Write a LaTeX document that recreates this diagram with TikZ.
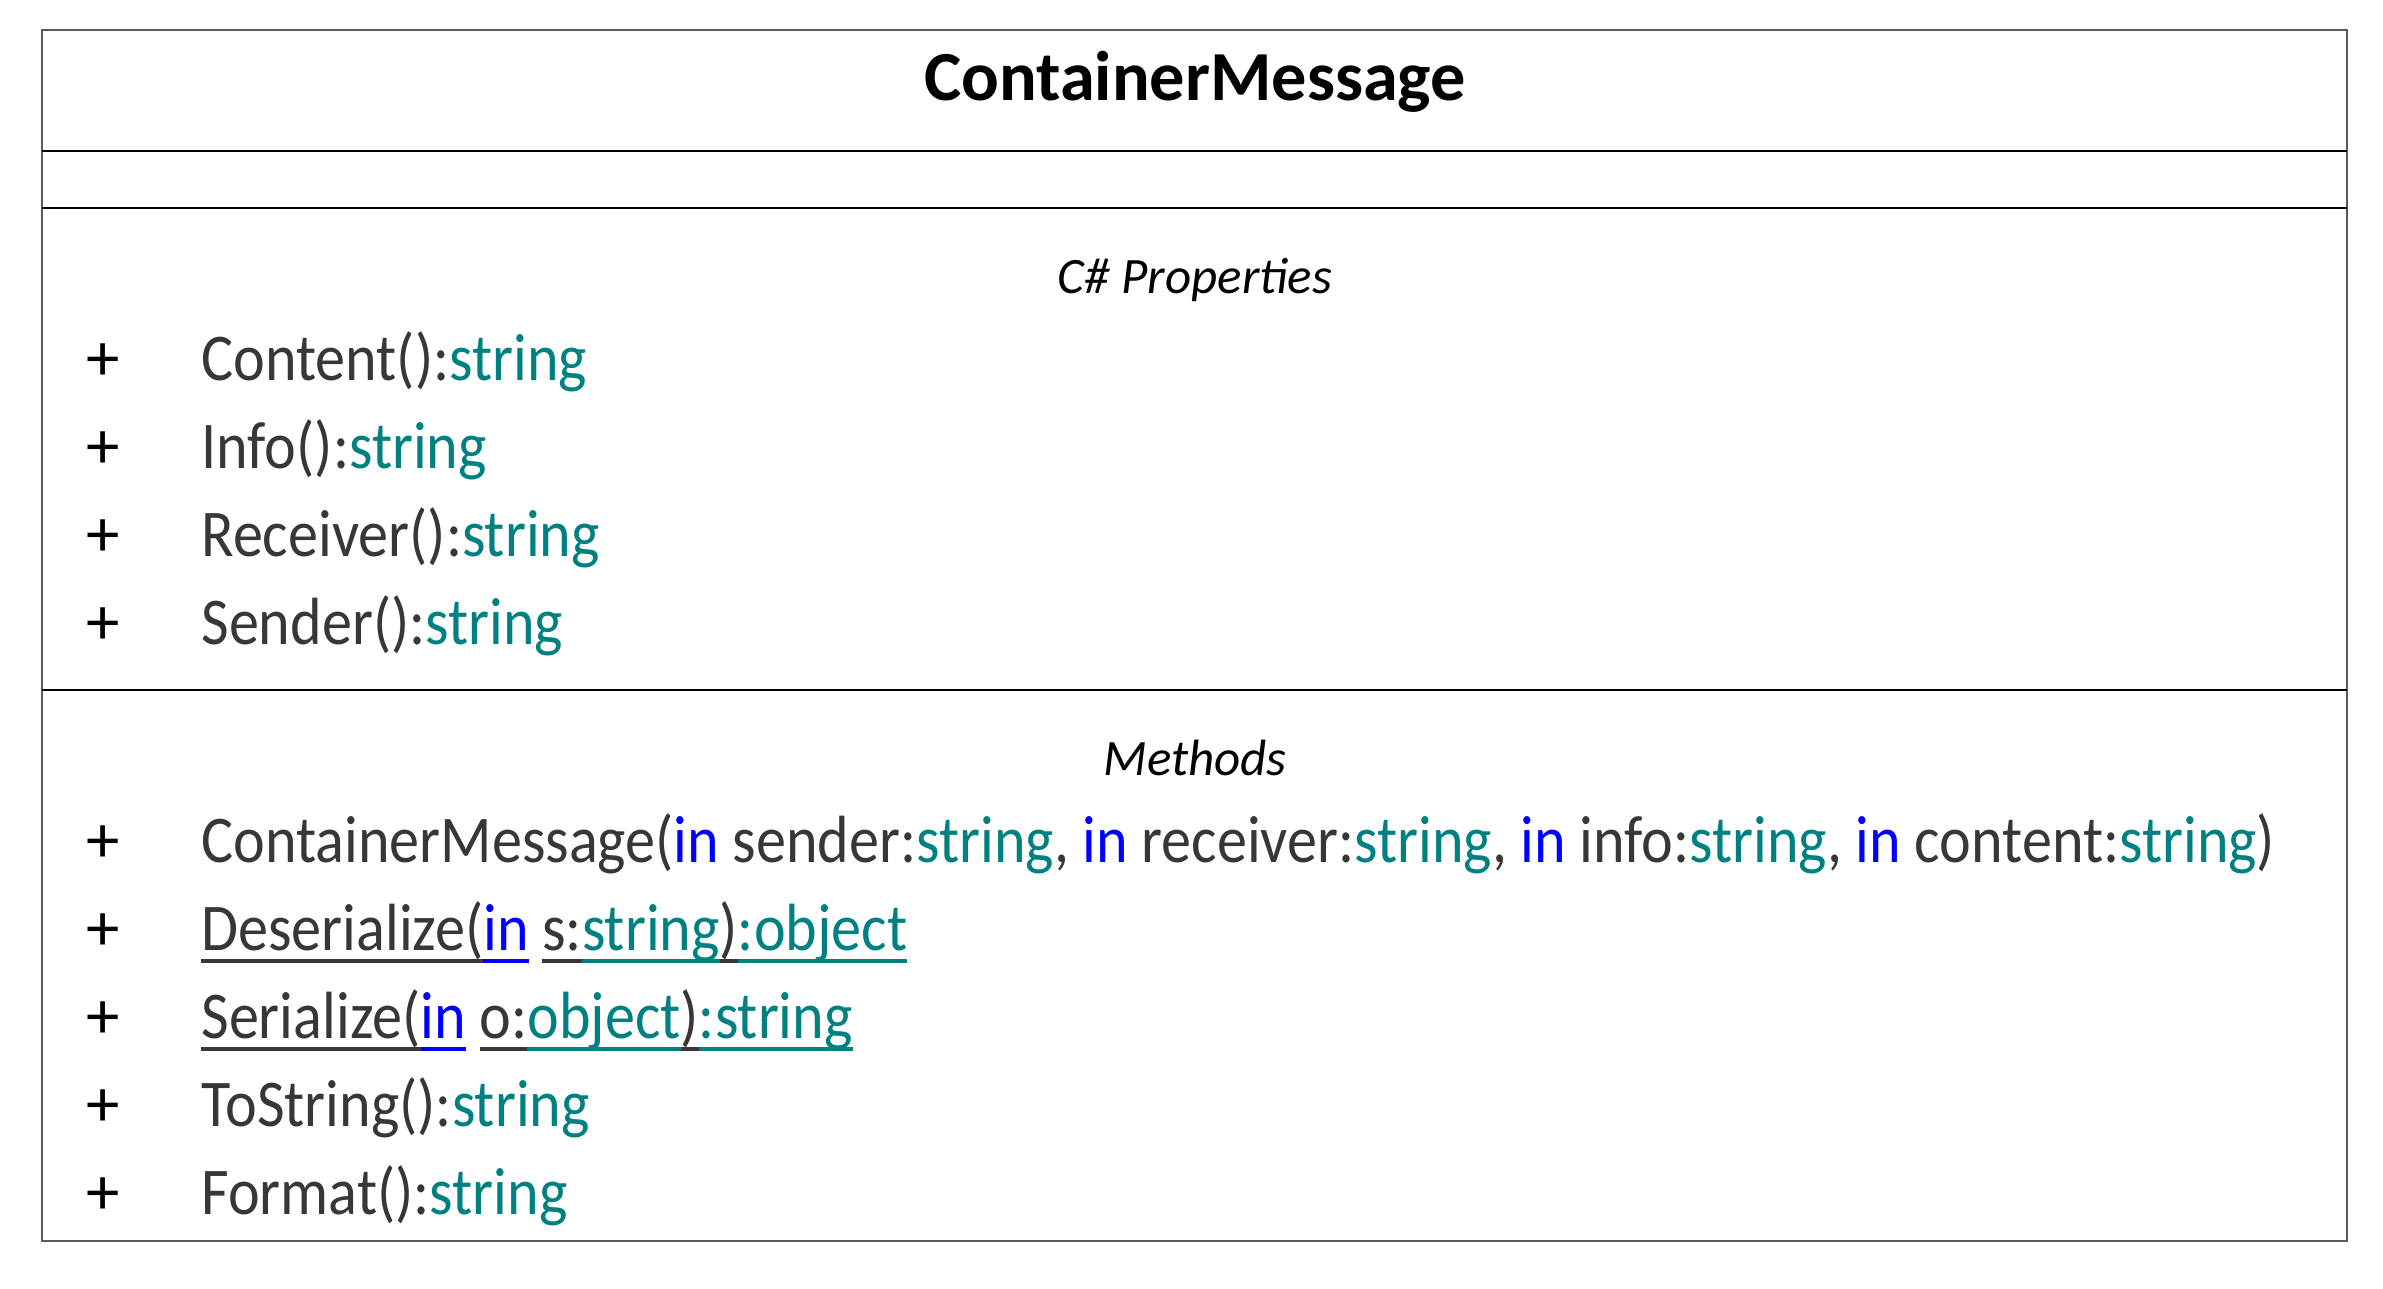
\documentclass[tikz,border=0pt]{standalone}
\usepackage{fontspec}
\setmainfont{Carlito}
\newfontfamily\memberfont{Carlito}[FakeStretch=0.9]
\definecolor{umltext}{RGB}{55,55,55}
\definecolor{umltype}{RGB}{0,128,128}
\definecolor{umlkw}{RGB}{0,0,255}
\definecolor{umlframe}{RGB}{90,90,90}

\newcommand{\kw}[1]{\textcolor{umlkw}{#1}}
\newcommand{\ty}[1]{\textcolor{umltype}{#1}}
% underlined piece of a static member, line at a fixed depth
\newlength{\ulwidth}
\newcommand{\ulseg}[2]{{\color{#1}\settowidth{\ulwidth}{#2}\rlap{\rule[-0.2em]{\ulwidth}{0.07em}}#2}}

\begin{document}
\begin{tikzpicture}[
        x = 0.01cm, % one unit is one pixel of the sketch
        y = -0.01cm, % counted from the top down
        line width = 0.8pt
    ]

    \tikzstyle{member}=[
        anchor = base west,
        inner sep = 0pt,
        text = umltext,
        font = \memberfont\fontsize{19}{22}\selectfont
    ]
    \tikzstyle{plus}=[
        anchor = base,
        inner sep = 0pt,
        font = \fontsize{19}{22}\selectfont
    ]
    \tikzstyle{section}=[
        anchor = base,
        inner sep = 0pt,
        font = \fontsize{14.5}{17}\selectfont\itshape
    ]

    \useasboundingbox (0,0) rectangle (2383,1288);

    % class frame and compartments
    \coordinate (nw) at (42,30);
    \coordinate (se) at (2347,1241);
    \draw[umlframe] (nw) rectangle (se);
    \draw (42,151) -- (2347,151);
    \draw (42,208) -- (2347,208);
    \draw (42,690) -- (2347,690);

    \node[anchor = base, inner sep = 0pt, font = \fontsize{20}{24}\selectfont\bfseries] (title) at (1195,101) {ContainerMessage};

    % properties
    \node[section] (props) at (1195,293) {C\# Properties};
    \foreach \name [count=\i] in {Content,Info,Receiver,Sender} {
        \node[plus] (pp\i) at (103,{380+88*(\i-1)}) {+};
        \node[member] (p\i) at (200,{380+88*(\i-1)}) {\name():\ty{string}};
    }

    % methods
    \node[section] (meths) at (1195,775) {Methods};
    \foreach \i in {1,...,5} {
        \node[plus] (mp\i) at (103,{862+88*(\i-1)}) {+};
    }
    \node[member] (m1) at (200,862) {ContainerMessage(\kw{in} sender:\ty{string}, \kw{in} receiver:\ty{string}, \kw{in} info:\ty{string}, \kw{in} content:\ty{string})};
    \node[member] (m2) at (200,950) {\ulseg{umltext}{Deserialize(}\ulseg{umlkw}{in} \ulseg{umltext}{s:}\ulseg{umltype}{string}\ulseg{umltext}{)}\ulseg{umltype}{:object}};
    \node[member] (m3) at (200,1038) {\ulseg{umltext}{Serialize(}\ulseg{umlkw}{in} \ulseg{umltext}{o:}\ulseg{umltype}{object}\ulseg{umltext}{)}\ulseg{umltype}{:string}};
    \node[member] (m4) at (200,1126) {ToString():\ty{string}};
    \node[member] (m5) at (200,1214) {Format():\ty{string}};

\end{tikzpicture}
\end{document}
